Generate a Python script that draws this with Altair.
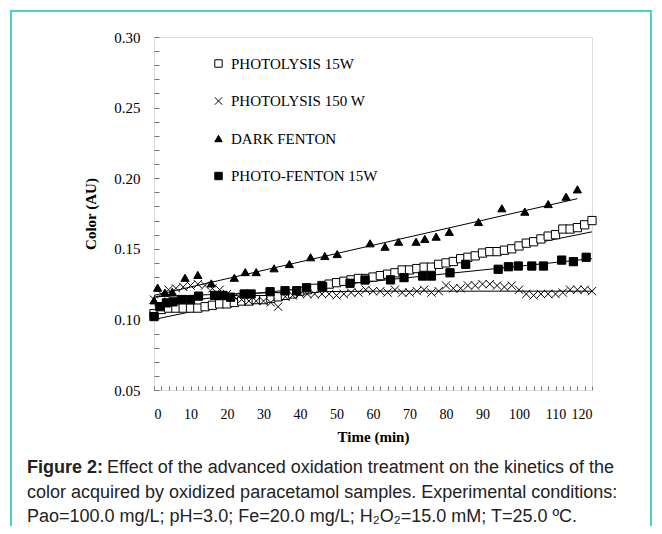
import altair as alt
import pandas as pd

SERIES = ["PHOTOLYSIS 15W", "PHOTOLYSIS 150 W", "DARK FENTON", "PHOTO-FENTON 15W"]

# --- measured series -------------------------------------------------------
time_2min = list(range(0, 121, 2))
photolysis_15w = [
    0.104, 0.107, 0.108, 0.108, 0.108, 0.108, 0.108, 0.109, 0.110, 0.111,
    0.111, 0.112, 0.113, 0.113, 0.114, 0.114, 0.115, 0.116, 0.117, 0.118,
    0.120, 0.121, 0.122, 0.124, 0.125, 0.126, 0.127, 0.128, 0.129, 0.129,
    0.130, 0.131, 0.132, 0.133, 0.135, 0.135, 0.136, 0.137, 0.137, 0.139,
    0.140, 0.141, 0.143, 0.144, 0.145, 0.147, 0.148, 0.148, 0.149, 0.150,
    0.152, 0.154, 0.155, 0.157, 0.159, 0.160, 0.164, 0.164, 0.165, 0.167,
    0.170,
]
photolysis_150w = [
    0.114, 0.118, 0.121, 0.122, 0.123, 0.124, 0.125, 0.124, 0.122, 0.121,
    0.118, 0.116, 0.114, 0.113, 0.113, 0.113, 0.112, 0.109, 0.116, 0.117,
    0.118, 0.118, 0.118, 0.118, 0.118, 0.117, 0.118, 0.119, 0.119, 0.121,
    0.120, 0.120, 0.119, 0.121, 0.119, 0.119, 0.120, 0.121, 0.119, 0.120,
    0.124, 0.122, 0.122, 0.124, 0.124, 0.125, 0.125, 0.124, 0.123, 0.124,
    0.121, 0.118, 0.117, 0.118, 0.118, 0.118, 0.119, 0.121, 0.121, 0.121,
    0.120,
]
dark_fenton_time = [0, 1, 3, 5, 8.5, 12, 15.7, 22, 25, 28, 32.9, 37.1, 42.9, 46.8,
                    50.2, 59.2, 63.3, 67, 71.8, 74.2, 77.3, 80.9, 88.9, 95.3,
                    101.6, 108, 112.9, 116]
dark_fenton = [0.1135, 0.1225, 0.119, 0.1195, 0.1295, 0.1315, 0.1255, 0.1295,
               0.1335, 0.1335, 0.1362, 0.1392, 0.144, 0.1449, 0.1463, 0.1539,
               0.1515, 0.155, 0.155, 0.157, 0.1586, 0.162, 0.169, 0.1787,
               0.1763, 0.1817, 0.1869, 0.1921]
photo_fenton_time = [0, 1.6, 3.4, 5.2, 7.5, 10, 12.2, 16.6, 18.9, 21, 24.7, 26.6,
                     31.8, 35.9, 39.1, 41.8, 46.2, 53.7, 57.8, 64.8, 68.5, 73.6,
                     76, 81.1, 85.4, 94.3, 97.1, 99.8, 103.5, 106.7, 111.7,
                     114.9, 118.4]
photo_fenton = [0.102, 0.109, 0.1117, 0.1124, 0.1141, 0.114, 0.1165, 0.117,
                0.117, 0.1157, 0.118, 0.118, 0.1196, 0.1203, 0.1203, 0.1224,
                0.1232, 0.1256, 0.1279, 0.128, 0.1296, 0.1307, 0.1307, 0.133,
                0.139, 0.1355, 0.1373, 0.1378, 0.1378, 0.1378, 0.142, 0.1409,
                0.144]

# --- fitted trend lines ---------------------------------------------------
fit_15w_time = [0, 30, 60, 90, 120]
fit_15w = [0.100, 0.116, 0.1315, 0.1465, 0.162]
fit_150w_time = [0, 20, 40, 60, 120]
fit_150w = [0.116, 0.118, 0.1195, 0.120, 0.120]
fit_dark_time = [0, 54, 116]
fit_dark = [0.117, 0.149, 0.1855]
fit_pf_time = [0, 120]
fit_pf = [0.111, 0.143]

# --- axis ticks ------------------------------------------------------------
y_labels = [0.05, 0.10, 0.15, 0.20, 0.25, 0.30]
y_minor = [0.05, 0.06, 0.07, 0.08, 0.09, 0.10, 0.11, 0.12, 0.13, 0.14, 0.15,
           0.16, 0.17, 0.18, 0.19, 0.20, 0.21, 0.22, 0.23, 0.24, 0.25, 0.26,
           0.27, 0.28, 0.29, 0.30]
x_labels = [0, 10, 20, 30, 40, 50, 60, 70, 80, 90, 100, 110, 120]
x_minor = list(range(0, 121, 2))

caption_bold = "Figure 2:"
caption_l1 = "Effect of the advanced oxidation treatment on the kinetics of the"
caption_l2 = "color acquired by oxidized paracetamol samples. Experimental conditions:"
caption_l3 = "Pao=100.0 mg/L; pH=3.0; Fe=20.0 mg/L; H\u2082O\u2082=15.0 mM; T=25.0 \u00baC."

# --- tables ----------------------------------------------------------------
def frame(t, v, name):
    return pd.DataFrame({"time": t, "color": v, "series": name})

points_df = pd.concat([
    frame(time_2min, photolysis_15w, SERIES[0]),
    frame(time_2min, photolysis_150w, SERIES[1]),
    frame(dark_fenton_time, dark_fenton, SERIES[2]),
    frame(photo_fenton_time, photo_fenton, SERIES[3]),
], ignore_index=True)

fits_df = pd.concat([
    frame(fit_15w_time, fit_15w, SERIES[0]),
    frame(fit_150w_time, fit_150w, SERIES[1]),
    frame(fit_dark_time, fit_dark, SERIES[2]),
    frame(fit_pf_time, fit_pf, SERIES[3]),
], ignore_index=True)

one = pd.DataFrame({"k": [0]})

W, H = 438, 353
SERIF = "Liberation Serif"
SANS = "Liberation Sans"
TEAL = "#4fd1c1"

xscale = alt.Scale(domain=[0, 120], nice=False, zero=False)
yscale = alt.Scale(domain=[0.05, 0.30], nice=False, zero=False)

legend = alt.Legend(
    orient="none", legendX=57, legendY=19, title=None, direction="vertical",
    labelFont=SERIF, labelFontSize=15, labelColor="black", symbolSize=55,
    rowPadding=21.5, labelOffset=5, padding=0,
    symbolStrokeColor="black", symbolStrokeWidth=1,
)

fits = alt.Chart(fits_df).mark_line(color="black", strokeWidth=1).encode(
    x=alt.X("time:Q", scale=xscale, axis=alt.Axis(
        orient="top", offset=-H, values=x_minor, labels=False, domain=False,
        grid=False, tickSize=4, tickColor="#777", tickWidth=1, title=None)),
    y=alt.Y("color:Q", scale=yscale, axis=alt.Axis(
        orient="right", offset=-W, values=y_minor, labels=False, domain=False,
        grid=False, tickSize=5, tickColor="#777", tickWidth=1, title=None)),
    detail="series:N",
)

points = alt.Chart(points_df).mark_point(
    filled=True, strokeWidth=1, size=68, opacity=1
).encode(
    x=alt.X("time:Q", scale=xscale, axis=alt.Axis(
        orient="bottom", values=x_labels, ticks=False, tickSize=0, domain=False,
        grid=False, labelFont=SERIF, labelFontSize=14, labelColor="black",
        labelPadding=17, title="Time (min)", titleFont=SERIF, titleFontSize=15,
        titleFontWeight="bold", titleColor="black", titlePadding=8)),
    y=alt.Y("color:Q", scale=yscale, axis=alt.Axis(
        orient="left", values=y_labels, format=".2f", ticks=False, tickSize=0,
        domain=False, grid=False, labelFont=SERIF, labelFontSize=15,
        labelColor="black", labelPadding=14, title="Color (AU)",
        titleFont=SERIF, titleFontSize=15, titleFontWeight="bold",
        titleColor="black", titlePadding=15)),
    shape=alt.Shape("series:N", sort=SERIES, scale=alt.Scale(
        domain=SERIES,
        range=["square", "M-1,-1L1,1M1,-1L-1,1", "triangle-up", "square"]),
        legend=legend),
    fill=alt.Fill("series:N", sort=SERIES, scale=alt.Scale(
        domain=SERIES, range=["white", "black", "black", "black"]),
        legend=legend),
    stroke=alt.Stroke("series:N", sort=SERIES, scale=alt.Scale(
        domain=SERIES, range=["black", "black", "black", "black"]),
        legend=legend),
)

border = alt.Chart(one).mark_rect(
    fillOpacity=0, stroke=TEAL, strokeWidth=2
).encode(
    x=alt.value(-143), x2=alt.value(497), y=alt.value(-26), y2=alt.value(700)
)

def cap(text, x, y, bold=False):
    return alt.Chart(one).mark_text(
        align="left", baseline="middle", font=SANS, fontSize=18,
        fontWeight="bold" if bold else "normal", color="#222"
    ).encode(x=alt.value(x), y=alt.value(y), text=alt.value(text))

captions = [
    cap(caption_bold, -127, 431, bold=True),
    cap(caption_l1, -47, 431),
    cap(caption_l2, -127, 456),
    cap(caption_l3, -127, 480),
]

chart = alt.layer(fits, points, border, *captions).resolve_axis(
    x="independent", y="independent"
).resolve_scale(x="shared", y="shared").properties(
    width=W, height=H,
    autosize=alt.AutoSizeParams(type="none"),
    padding={"left": 146, "top": 29, "right": 62, "bottom": 136},
).configure_view(stroke="black", strokeWidth=1).configure(background="white")

chart.save("out.html", embed_options={"renderer": "svg", "actions": False})
